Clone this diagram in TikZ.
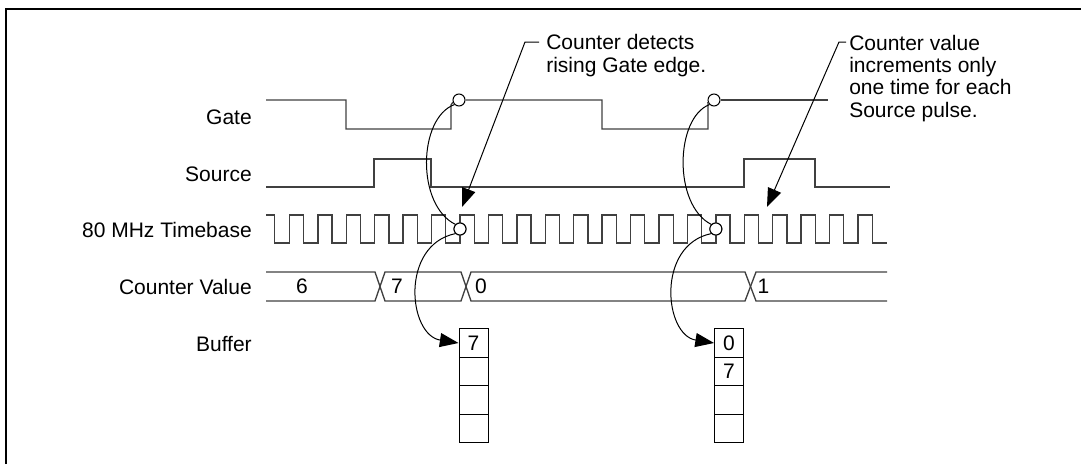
\documentclass[tikz,border=0pt]{standalone}
\usepackage{fontspec}
\setmainfont{Liberation Sans}
\usetikzlibrary{arrows.meta}
\begin{document}
\begin{tikzpicture}[x=0.75pt,y=-0.75pt,
  font=\fontsize{15.75pt}{16.75pt}\selectfont,
  wave/.style={draw=black!75, line width=1pt},
  lbl/.style={anchor=base east, inner sep=0},
  circ/.style={circle, draw, fill=white, inner sep=0, minimum size=9pt, line width=0.75pt},
  cell/.style={draw, line width=0.75pt, minimum width=21.75pt, minimum height=21.4pt, inner sep=0},
  curve/.style={draw, line width=0.75pt},
  link/.style={draw, line width=0.75pt, -{Triangle[length=14pt,width=10.5pt]}},
  note/.style={anchor=base west, align=left, inner sep=0},
  val/.style={inner sep=0}]
\useasboundingbox (0,0) rectangle (1081,464);
% frame
\draw[line width=1.5pt] (6,464) -- (6,9) -- (1081,9);
% labels
\node[lbl] (lg) at (252,124) {Gate};
\node[lbl] (ls) at (252,181) {Source};
\node[lbl] (lt) at (252,237) {80 MHz Timebase};
\node[lbl] (lc) at (252,294) {Counter Value};
\node[lbl] (lb) at (252,351) {Buffer};
% circles
\node[circ] (g1) at (459,100) {};
\node[circ] (g2) at (714,100) {};
\node[circ] (t1) at (460,229) {};
\node[circ] (t2) at (715.85,229) {};
% gate
\draw[wave] (266,100) -- (346,100) -- (346,129) -- (451,129) -- (451,105) -- (g1.200);
\draw[wave] (g1.east) -- (602,100) -- (602,129) -- (708,129) -- (708,105) -- (g2.200);
\draw[wave] (g2.east) -- (828,100);
% source
\draw[wave] (266,187) -- (374,187) -- (374,159) -- (431,159) -- (431,187) -- (744,187) -- (744,159) -- (815,159) -- (815,187) -- (890,187);
% timebase
\draw[wave] (266,215) -- (274.5,215) -- (274.5,243)
  foreach \k in {0,...,20}{ -- ({289.4+28.43*\k},243) -- ++(0,-28) -- ++(14.2,0) -- ++(0,28) } -- (887,243);
% redraw circles on top
\node[circ] at (t1) {};
\node[circ] at (t2) {};
% counter bus
\draw[wave] (266,272) -- (375,272) -- (385,301) -- (461,301) -- (471,272) -- (745,272) -- (756,301) -- (887,301);
\draw[wave] (266,301) -- (375,301) -- (385,272) -- (461,272) -- (471,301) -- (745,301) -- (756,272) -- (887,272);
\node[val] (v6) at (302,286.5) {6};
\node[val] (v7) at (397,286.5) {7};
\node[val] (v0) at (481,286.5) {0};
\node[val] (v1) at (763.5,286.5) {1};
% buffers
\node[cell] (b1a) at (473.5,343) {7};
\node[cell] (b1b) at (473.5,371.5) {};
\node[cell] (b1c) at (473.5,400) {};
\node[cell] (b1d) at (473.5,428.5) {};
\node[cell] (b2a) at (729,343) {0};
\node[cell] (b2b) at (729,371.5) {7};
\node[cell] (b2c) at (729,400) {};
\node[cell] (b2d) at (729,428.5) {};
% curved connectors
\draw[curve] (g1.225) .. controls (418,118) and (416,205) .. (t1.135);
\draw[link] (t1.225) .. controls (400,245) and (408,335) .. (b1a.west);
\draw[curve] (g2.225) .. controls (675,118) and (673,205) .. (t2.135);
\draw[link] (t2.225) .. controls (656,245) and (664,335) .. (b2a.west);
% annotations
\node[note] (n1) at (546,72) {Counter detects\\rising Gate edge.};
\node[note] (n2) at (849,117) {Counter value\\increments only\\one time for each\\Source pulse.};
\coordinate (n1s) at (539,42);
\coordinate (n1b) at (525,42);
\coordinate (n1t) at (462,207);
\coordinate (n2s) at (846,42);
\coordinate (n2b) at (839,42);
\coordinate (n2t) at (767,207);
\draw[link] (n1s) -- (n1b) -- (n1t);
\draw[link] (n2s) -- (n2b) -- (n2t);
\end{tikzpicture}
\end{document}
